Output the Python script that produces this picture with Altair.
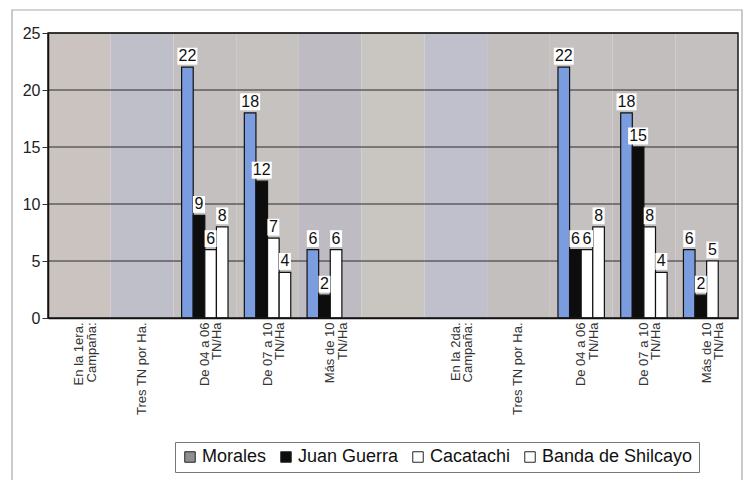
import altair as alt
import pandas as pd

# ---- data ----
categories = ["En la 1era.|Campaña:", "Tres TN por Ha.", "De 04 a 06|TN/Ha", "De 07 a 10|TN/Ha",
              "Más de 10|TN/Ha", " ", "En la 2da.|Campaña:", "Tres TN por Ha. ",
              "De 04 a 06|TN/Ha ", "De 07 a 10|TN/Ha ", "Más de 10|TN/Ha "]
series = ["Morales", "Juan Guerra", "Cacatachi", "Banda de Shilcayo"]
morales = [None, None, 22, 18, 6, None, None, None, 22, 18, 6]
juan_guerra = [None, None, 9, 12, 2, None, None, None, 6, 15, 2]
cacatachi = [None, None, 6, 7, 6, None, None, None, 6, 8, 5]
banda = [None, None, 8, 4, None, None, None, None, 8, 4, None]
bar_colors = ["#7b9de0", "#0d0d0d", "#ffffff", "#ffffff"]
legend_colors = ["#8f8f8f", "#0d0d0d", "#ffffff", "#ffffff"]
band_tints = ["#cbc3c0", "#bfbfca", "#c4c0bf", "#c6c2c0", "#bebbc3", "#c9c5c1",
              "#c0c0cc", "#c3bfbf", "#c5c1c0", "#c2bebe", "#c4c0c0"]
gridlines = [5, 10, 15, 20, 25]
y_ticks = [0, 5, 10, 15, 20, 25]

rows = []
for s, vals in zip(series, [morales, juan_guerra, cacatachi, banda]):
    for c, v in zip(categories, vals):
        if v is not None:
            rows.append({"cat": c, "serie": s, "v": v})
df = pd.DataFrame(rows)

bands = pd.DataFrame({"b0": list(range(len(categories))),
                      "b1": [i + 1 for i in range(len(categories))],
                      "tint": band_tints})
grid_df = pd.DataFrame({"g": gridlines})
one = pd.DataFrame({"k": [0]})

FONT = "Liberation Sans"
yscale = alt.Scale(domain=[0, 25], nice=False)
yaxis = alt.Axis(title=None, values=y_ticks, grid=False, labelFont=FONT,
                 labelFontSize=16, labelColor="#222222", tickSize=6, tickColor="#333333",
                 labelPadding=2, domainColor="#111111", domainWidth=1.5, zindex=1)
xscale = alt.Scale(domain=categories, paddingInner=0.26, paddingOuter=0.13)
xaxis = alt.Axis(title=None, labelAngle=270, labelAlign="right", labelBaseline="middle",
                 labelExpr="split(datum.label, '|')", labelFont=FONT, labelFontSize=13,
                 labelColor="#333333", labelPadding=4, labelLineHeight=12.5, labelLimit=300,
                 ticks=False, domainColor="#111111", domainWidth=1.5, zindex=1)
xoff = alt.XOffset("serie:N", scale=alt.Scale(domain=series), sort=series)

background = alt.Chart(bands).mark_rect().encode(
    x=alt.X("b0:Q", scale=alt.Scale(domain=[0, len(categories)], nice=False, zero=False), axis=None),
    x2="b1:Q",
    y=alt.value(0), y2=alt.value("height"),
    fill=alt.Fill("tint:N", scale=None, legend=None),
)

grid = alt.Chart(grid_df).mark_rule(color="#2a2a2a", strokeWidth=1).encode(
    y=alt.Y("g:Q", scale=yscale, axis=yaxis),
    x=alt.value(0), x2=alt.value("width"),
)

bars = alt.Chart(df).mark_bar(stroke="#111111", strokeWidth=1.2).encode(
    x=alt.X("cat:N", scale=xscale, sort=categories, axis=xaxis),
    xOffset=xoff,
    y=alt.Y("v:Q", scale=yscale, axis=yaxis),
    color=alt.Color("serie:N", scale=alt.Scale(domain=series, range=bar_colors), legend=None),
)

box_small = alt.Chart(df).transform_filter("datum.v < 10").mark_point(
    shape="M-1,-1.4H1V1.4H-1Z", filled=True, fill="white", opacity=1, size=144
).encode(x=alt.X("cat:N", scale=xscale, sort=categories, axis=xaxis), xOffset=xoff,
         y=alt.Y("v:Q", scale=yscale, axis=yaxis), yOffset=alt.value(-11))

box_big = alt.Chart(df).transform_filter("datum.v >= 10").mark_point(
    shape="M-1,-0.85H1V0.85H-1Z", filled=True, fill="white", opacity=1, size=400
).encode(x=alt.X("cat:N", scale=xscale, sort=categories, axis=xaxis), xOffset=xoff,
         y=alt.Y("v:Q", scale=yscale, axis=yaxis), yOffset=alt.value(-11))

labels = alt.Chart(df).mark_text(dy=-11, font=FONT, fontSize=16, color="#111111", baseline="middle").encode(
    x=alt.X("cat:N", scale=xscale, sort=categories, axis=xaxis), xOffset=xoff,
    y=alt.Y("v:Q", scale=yscale, axis=yaxis), text="v:Q",
)

frame = alt.Chart(one).mark_rect(fillOpacity=0, stroke="#1a1a1a", strokeWidth=1.5).encode(
    x=alt.value(0), x2=alt.value("width"), y=alt.value(0), y2=alt.value("height"))

outer = alt.Chart(one).mark_rect(fillOpacity=0, stroke="#a8a8a8", strokeWidth=1.2).encode(
    x=alt.value(-36), x2=alt.value(694), y=alt.value(-23), y2=alt.value(470))

legend_layer = alt.Chart(df).transform_filter("false").mark_square(filled=True, opacity=1).encode(
    fill=alt.Fill("serie:N", scale=alt.Scale(domain=series, range=legend_colors),
                  legend=alt.Legend(title=None, orient="none", legendX=127, legendY=409,
                                    direction="horizontal", strokeColor="#777777", fillColor="white",
                                    padding=6, symbolType="square", symbolSize=110,
                                    symbolOpacity=1, symbolFillColor="#ffffff",
                                    symbolStrokeColor="#222222", symbolStrokeWidth=1,
                                    labelFont=FONT, labelFontSize=18, labelColor="#111111",
                                    columnPadding=10, labelOffset=3)),
)

main = alt.layer(grid, bars, box_small, box_big, labels, frame, outer, legend_layer)

chart = alt.layer(background, main).resolve_scale(
    x="independent", fill="independent"
).properties(
    width=690, height=285,
    autosize=alt.AutoSizeParams(type="none"),
    padding={"left": 48, "top": 33, "right": 7, "bottom": 162},
    background="white",
).configure_view(stroke=None)

chart.save("out.html", embed_options={"renderer": "svg", "actions": False})
